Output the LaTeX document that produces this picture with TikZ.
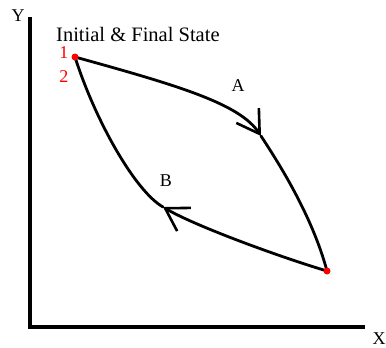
\documentclass[tikz,border=0pt]{standalone}
\usepackage{fontspec}
\setmainfont{Liberation Serif}
\usetikzlibrary{arrows.meta}
\begin{document}
\begin{tikzpicture}[x=1pt,y=-1pt,
  curve/.style={line width=2.8pt,line cap=round},
  barb/.style={curve,-{Straight Barb[length=22pt,width=27pt,line width=2.6pt]}},
  axis/.style={line width=3.6pt},
  dot/.style={circle,fill=red,inner sep=0pt,minimum size=7pt},
  lab/.style={inner sep=0pt,font=\fontsize{18}{18}\selectfont},
  redlab/.style={lab,text=red}]
\useasboundingbox (0,0) rectangle (386,348);
\coordinate (o) at (30,327);
\coordinate (ytop) at (30,17);
\coordinate (xend) at (365,327);
\draw[axis] (ytop) -- (o) -- (xend);
\node[lab] (ylab) at (18,16) {Y};
\node[lab] (xlab) at (379,339) {X};
\coordinate (p1) at (75,57);
\coordinate (p2) at (327,271);
\coordinate (a) at (261,136);
\coordinate (b) at (163,207);
\draw[barb] (p1) .. controls (180,86) and (240,104) .. (a);
\draw[curve] (a) .. controls (278,162) and (312,215) .. (p2);
\draw[barb] (p2) .. controls (280,257) and (195,226) .. (b);
\draw[curve] (b) .. controls (135,191) and (95,120) .. (p1);
\node[dot] (d1) at (p1) {};
\node[dot] (d2) at (p2) {};
\node[lab,font=\fontsize{20.5}{20.5}\selectfont,anchor=west] (title) at (56,34) {Initial \& Final State};
\node[redlab] (n1) at (64,53) {1};
\node[redlab] (n2) at (64,77) {2};
\node[lab] (la) at (238,86) {A};
\node[lab] (lb) at (166,181) {B};
\end{tikzpicture}
\end{document}
